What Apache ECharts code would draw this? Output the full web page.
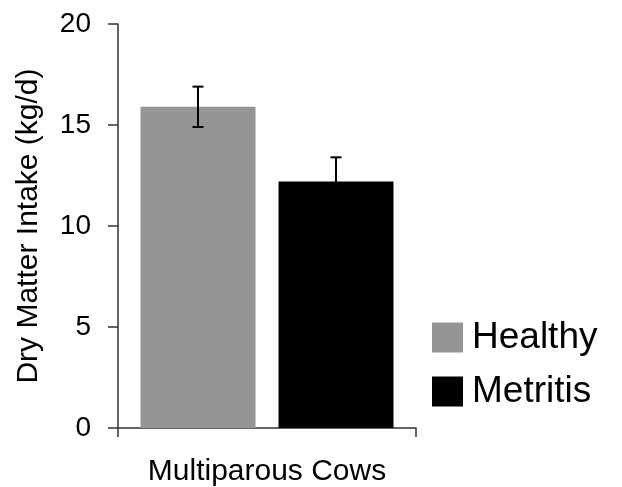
<!DOCTYPE html>
<html>
<head>
<meta charset="utf-8">
<script src="https://cdn.jsdelivr.net/npm/echarts@6/dist/echarts.min.js"></script>
<style>
html,body{margin:0;padding:0;background:#fff;}
#chart{width:622px;height:487px;}
</style>
</head>
<body>
<div id="chart"></div>
<script>
const categories = ['Multiparous Cows'];
const groupNames = ['Healthy', 'Metritis'];
const healthyMean = [15.9];
const metritisMean = [12.2];
const healthyErr = [1.0];
const metritisErr = [1.2];
const yTicks = [0, 5, 10, 15, 20];

const FONT = '"Liberation Sans", Arial, sans-serif';
const BAR_W = 115;
const BAR_GAP = 0.2;
const colors = ['#959595', '#000000'];

const errData = [];
[healthyMean, metritisMean].forEach((means, g) => {
  const errs = g === 0 ? healthyErr : metritisErr;
  means.forEach((m, i) => errData.push([i, m - errs[i], m + errs[i], g]));
});

const chart = echarts.init(document.getElementById('chart'));
chart.setOption({
  animation: false,
  backgroundColor: '#fff',
  grid: { left: 118, right: 206, top: 24, bottom: 59, containLabel: false, outerBoundsMode: 'none' },
  legend: {
    data: groupNames,
    orient: 'vertical',
    left: 427,
    top: 314,
    itemWidth: 31,
    itemHeight: 30,
    itemGap: 17,
    icon: 'rect',
    textStyle: { fontFamily: FONT, fontSize: 37, color: '#000', padding: [0, 0, 0, 4] }
  },
  xAxis: {
    type: 'category',
    data: categories,
    name: categories[0],
    nameLocation: 'middle',
    nameGap: 29,
    nameTextStyle: { fontFamily: FONT, fontSize: 30, color: '#000' },
    axisLine: { lineStyle: { color: '#333', width: 1.5 } },
    axisTick: { show: true, alignWithLabel: false, length: 9, lineStyle: { color: '#333', width: 1.5 } },
    axisLabel: { show: false }
  },
  yAxis: {
    type: 'value',
    min: yTicks[0],
    max: yTicks[yTicks.length - 1],
    interval: 5,
    name: 'Dry Matter Intake (kg/d)',
    nameLocation: 'middle',
    nameGap: 74,
    nameTextStyle: { fontFamily: FONT, fontSize: 30, color: '#000' },
    axisLine: { show: true, lineStyle: { color: '#333', width: 1.5 } },
    axisTick: { show: true, length: 10, lineStyle: { color: '#333', width: 1.5 } },
    axisLabel: { fontFamily: FONT, fontSize: 28, color: '#000', margin: 27 },
    splitLine: { show: false }
  },
  series: [
    {
      name: groupNames[0], type: 'bar', data: healthyMean,
      barWidth: BAR_W, barGap: (BAR_GAP * 100) + '%',
      itemStyle: { color: colors[0] }
    },
    {
      name: groupNames[1], type: 'bar', data: metritisMean,
      barWidth: BAR_W,
      itemStyle: { color: colors[1] }
    },
    {
      type: 'custom',
      data: errData,
      z: 10,
      renderItem: function (params, api) {
        const cat = api.value(0);
        const g = api.value(3);
        const off = (g - 0.5) * BAR_W * (1 + BAR_GAP);
        const lo = api.coord([cat, api.value(1)]);
        const hi = api.coord([cat, api.value(2)]);
        const x = lo[0] + off;
        const cap = 5.5;
        const style = { stroke: '#000', lineWidth: 2 };
        return {
          type: 'group',
          children: [
            { type: 'line', shape: { x1: x, y1: lo[1], x2: x, y2: hi[1] }, style },
            { type: 'line', shape: { x1: x - cap, y1: hi[1], x2: x + cap, y2: hi[1] }, style },
            { type: 'line', shape: { x1: x - cap, y1: lo[1], x2: x + cap, y2: lo[1] }, style }
          ]
        };
      }
    }
  ]
});
</script>
</body>
</html>
